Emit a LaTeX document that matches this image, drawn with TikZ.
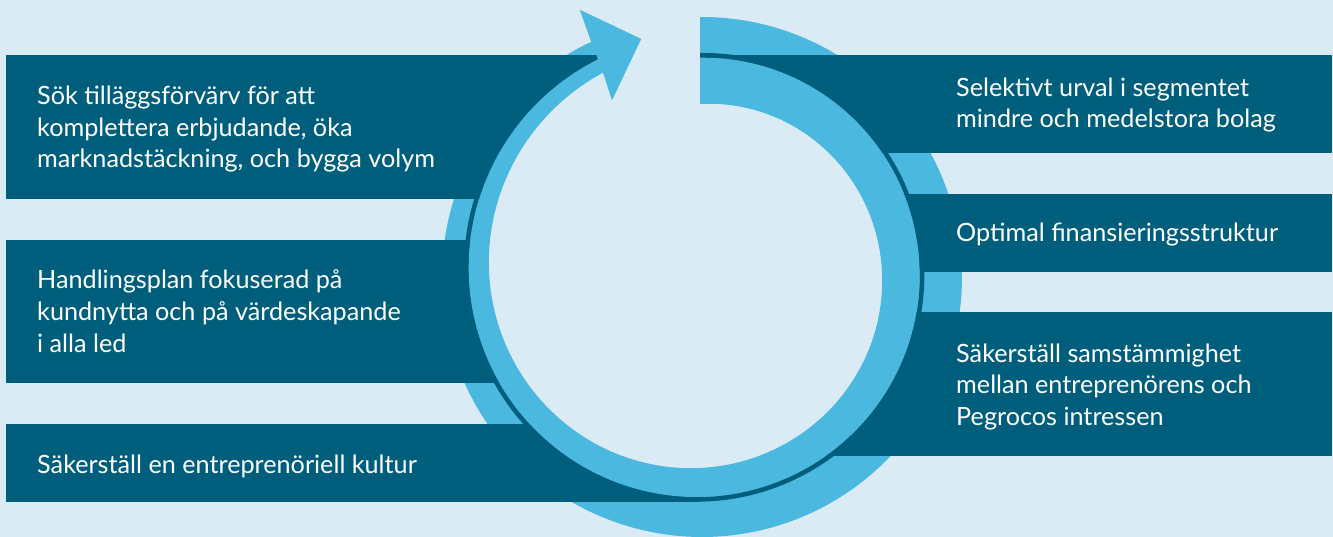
\documentclass[tikz,border=0pt]{standalone}
\usepackage{fontspec}
\setmainfont{Lato}
\definecolor{bgc}{RGB}{218,235,245}
\definecolor{barc}{RGB}{0,94,125}
\definecolor{ringc}{RGB}{75,184,223}
\tikzset{
  lbl/.style={anchor=base west, inner sep=0pt, text=white, font=\fontsize{25.2pt}{31.5pt}\selectfont},
  barfill/.style={fill=barc},
}
\begin{document}
\begin{tikzpicture}[x=1pt,y=-1pt]
\useasboundingbox (0,0) rectangle (1333,537);
\fill[bgc] (0,0) rectangle (1333,537);

% light blue circular arrow (outer band + inner band)
\fill[ringc] plot[domain=90.44:-244.8, samples=240] ({702+260*cos(\x)},{277-260*sin(\x)})
  -- (580,10) -- (641,39) -- (612,100) -- (603,72)
  -- plot[domain=334:0, samples=240] ({700+(167.5+0.161*\x)*sin(\x)},{271.5-(167.5+0.161*\x)*cos(\x)})
  -- cycle;

% bars, kept outside the spiral
\begin{scope}[even odd rule]
\clip (0,0) rectangle (1333,537)
  plot[domain=0:360, samples=240] ({700+(214+0.065*\x)*sin(\x)},{271.5-(214+0.065*\x)*cos(\x)}) -- cycle;
\fill[barfill] (6,55) rectangle (700,199);
\fill[barfill] (6,240) rectangle (700,383);
\fill[barfill] (6,424) rectangle (700,502);
\fill[barfill] (700,55) rectangle (1332,153);
\fill[barfill] (700,194) rectangle (1332,272);
\fill[barfill] (700,312) rectangle (1332,456);
\end{scope}

% thin dark line along the arrow
\draw[barc, line width=4.5pt] plot[domain=0:334, samples=240] ({700+(216.25+0.065*\x)*sin(\x)},{271.5-(216.25+0.065*\x)*cos(\x)});

% arrow head on top
\fill[ringc] (591.3,41.7) -- (580,10) -- (641,39) -- (612,100) -- (603,72) -- cycle;

% texts
\node[lbl] (l1a) at (37,105) {Sök tilläggsförvärv för att};
\node[lbl] (l1b) at (37,136.5) {komplettera erbjudande, öka};
\node[lbl] (l1c) at (37,168) {marknadstäckning, och bygga volym};
\node[lbl] (l2a) at (37,289) {Handlingsplan fokuserad på};
\node[lbl] (l2b) at (37,320.5) {kundnytta och på värdeskapande};
\node[lbl] (l2c) at (37,352) {i alla led};
\node[lbl] (l3a) at (37,473) {Säkerställ en entreprenöriell kultur};
\node[lbl] (r1a) at (956,97) {Selektivt urval i segmentet};
\node[lbl] (r1b) at (956,128) {mindre och medelstora bolag};
\node[lbl] (r2a) at (956,242) {Optimal finansieringsstruktur};
\node[lbl] (r3a) at (956,362) {Säkerställ samstämmighet};
\node[lbl] (r3b) at (956,393.5) {mellan entreprenörens och};
\node[lbl] (r3c) at (956,425) {Pegrocos intressen};
\end{tikzpicture}
\end{document}
